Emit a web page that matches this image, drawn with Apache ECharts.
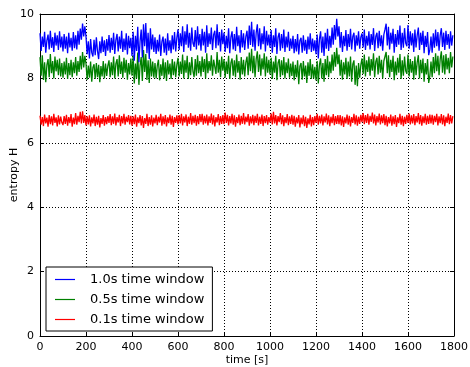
<!DOCTYPE html>
<html>
<head>
<meta charset="utf-8">
<script src="https://cdn.jsdelivr.net/npm/echarts@6/dist/echarts.min.js"></script>
<style>
  html, body { margin: 0; padding: 0; background: #fff; }
  #entropyChart { width: 470px; height: 367px; }
</style>
</head>
<body>
<div id="entropyChart"></div>
<script>
// sampling step of the read-off values (s)
const dt = 5;
const xTicks = [0, 200, 400, 600, 800, 1000, 1200, 1400, 1600, 1800];
const yTicks = [0, 2, 4, 6, 8, 10];
const seriesNames = ['1.0s time window', '0.5s time window', '0.1s time window'];

// 1.0s time window (blue), one value every 5 s
const win10 = [
  9.40, 8.85, 9.30, 8.98, 9.45, 8.80, 9.18, 9.36, 8.90, 9.48, 8.95, 9.28, 8.82, 9.42, 9.02, 9.34, 8.88, 9.46, 8.96, 9.30,
  8.84, 9.38, 8.92, 9.30, 8.78, 9.42, 8.96, 9.26, 8.86, 9.44, 8.94, 9.34, 8.90, 9.48, 9.05, 9.55, 9.20, 9.70, 9.30, 9.62,
  9.30, 8.75, 9.15, 8.62, 9.22, 8.80, 8.68, 9.20, 8.72, 9.28, 8.85, 8.60, 9.15, 8.78, 9.30, 8.82, 9.18, 8.70, 9.22, 8.86,
  9.35, 8.80, 9.26, 8.88, 9.42, 8.76, 9.20, 9.38, 8.84, 9.30, 8.92, 9.48, 8.82, 9.24, 8.88, 9.40, 8.74, 9.32, 8.94, 9.26,
  8.70, 9.45, 8.55, 9.32, 8.85, 9.60, 8.50, 9.15, 9.52, 8.65, 9.68, 9.00, 9.72, 8.78, 9.42, 8.60, 9.56, 8.90, 9.36, 8.82,
  9.28, 8.76, 9.20, 8.84, 9.36, 8.70, 9.14, 9.30, 8.80, 9.24, 8.72, 9.40, 8.86, 9.18, 8.78, 9.34, 8.90, 9.44, 8.84, 9.26,
  9.52, 8.88, 9.40, 9.00, 9.62, 8.82, 9.46, 9.05, 9.68, 8.95, 9.42, 8.86, 9.58, 9.10, 8.98, 9.50, 8.90, 9.62, 9.02, 9.38,
  8.86, 9.54, 9.02, 9.45, 8.80, 9.65, 8.98, 9.40, 9.06, 9.58, 8.88, 9.36, 9.48, 8.94, 9.68, 9.02, 9.44, 8.84, 9.52, 9.06,
  9.42, 8.82, 9.32, 8.94, 9.56, 8.78, 9.28, 9.46, 8.90, 9.38, 8.85, 9.60, 9.00, 9.34, 8.80, 9.50, 8.96, 9.40, 8.88, 9.30,
  9.48, 8.92, 9.64, 9.04, 9.76, 8.98, 9.52, 8.86, 9.42, 9.68, 9.00, 9.56, 8.90, 9.40, 9.06, 9.62, 8.84, 9.48, 9.02, 9.36,
  8.95, 9.50, 8.80, 9.34, 8.98, 9.56, 8.76, 9.28, 9.42, 8.86, 9.38, 8.94, 9.52, 8.82, 9.30, 8.96, 9.45, 8.85, 9.24, 8.92,
  9.32, 8.78, 9.22, 8.84, 9.38, 8.74, 9.18, 9.26, 8.80, 9.34, 8.86, 9.20, 8.76, 9.30, 8.90, 9.40, 8.82, 9.24, 8.86, 9.18,
  8.75, 9.36, 8.62, 9.22, 9.46, 8.80, 9.30, 8.70, 9.42, 8.92, 9.54, 8.85, 9.32, 8.95, 9.58, 9.05, 9.66, 9.20, 9.85, 9.30,
  9.62, 8.95, 9.44, 8.82, 9.32, 9.00, 9.50, 8.86, 9.38, 8.98, 9.54, 8.90, 9.30, 9.42, 8.84, 9.34, 9.02, 9.46, 8.92, 9.28,
  9.40, 8.96, 9.52, 8.88, 9.32, 9.02, 9.46, 8.90, 9.38, 9.04, 9.56, 8.85, 9.30, 9.42, 8.94, 9.48, 9.00, 9.34, 8.86, 9.36,
  9.52, 9.70, 9.02, 9.60, 8.90, 9.42, 9.08, 9.54, 8.80, 9.38, 8.98, 9.50, 9.05, 9.64, 8.88, 9.42, 8.95, 9.56, 9.10, 9.00,
  9.66, 8.92, 9.46, 9.02, 9.40, 8.82, 9.52, 8.96, 9.34, 9.58, 8.88, 9.42, 9.04, 9.48, 8.78, 9.32, 8.98, 9.44, 8.72, 8.90,
  9.30, 8.80, 9.40, 8.95, 9.52, 9.00, 9.44, 8.86, 9.34, 9.56, 8.98, 9.42, 8.88, 9.48, 9.04, 9.38, 8.92, 9.46, 9.02, 9.34
];

// 0.5s time window (green)
const win05 = [
  8.66, 8.08, 8.72, 7.95, 8.50, 7.88, 8.42, 8.60, 8.04, 8.76, 8.16, 8.54, 8.00, 8.68, 8.22, 8.58, 8.10, 8.62, 8.06, 8.48,
  8.02, 8.52, 8.12, 8.64, 7.98, 8.48, 8.10, 8.58, 8.04, 8.50, 8.16, 8.66, 8.08, 8.54, 8.20, 8.70, 8.28, 8.82, 8.34, 8.70,
  8.46, 7.95, 8.40, 8.02, 8.52, 7.90, 8.34, 8.44, 7.98, 8.48, 8.04, 8.42, 7.88, 8.38, 8.06, 8.54, 8.00, 8.46, 8.08, 8.40,
  8.56, 8.04, 8.50, 8.10, 8.68, 8.00, 8.46, 8.60, 8.06, 8.72, 8.14, 8.52, 8.02, 8.64, 8.18, 8.58, 7.96, 8.48, 8.12, 8.62,
  8.08, 8.72, 7.84, 8.46, 8.00, 8.80, 7.80, 8.40, 8.66, 7.92, 8.88, 8.20, 8.76, 7.95, 8.56, 7.86, 8.62, 8.06, 8.52, 8.02,
  8.48, 8.00, 8.40, 8.58, 7.94, 8.44, 8.08, 8.62, 8.00, 8.50, 7.92, 8.56, 8.12, 8.46, 7.98, 8.60, 8.10, 8.52, 8.04, 8.42,
  8.64, 8.06, 8.52, 8.14, 8.74, 8.00, 8.56, 8.18, 8.70, 7.98, 8.50, 8.10, 8.66, 8.22, 8.04, 8.60, 8.08, 8.72, 8.16, 8.54,
  8.06, 8.68, 8.20, 8.60, 8.00, 8.78, 8.16, 8.54, 8.24, 8.72, 8.08, 8.58, 8.64, 8.14, 8.82, 8.18, 8.58, 8.04, 8.68, 8.24,
  8.60, 8.02, 8.52, 8.14, 8.70, 7.98, 8.48, 8.62, 8.08, 8.56, 8.04, 8.74, 8.18, 8.54, 7.96, 8.66, 8.12, 8.58, 8.06, 8.50,
  8.68, 8.10, 8.80, 8.22, 8.92, 8.16, 8.70, 8.04, 8.60, 8.84, 8.20, 8.74, 8.08, 8.62, 8.28, 8.78, 8.06, 8.68, 8.18, 8.58,
  8.12, 8.64, 7.98, 8.52, 8.18, 8.70, 7.94, 8.48, 8.60, 8.04, 8.56, 8.10, 8.66, 8.00, 8.50, 8.16, 8.62, 8.02, 8.46, 8.08,
  8.52, 7.94, 8.42, 8.04, 8.56, 7.82, 8.38, 8.48, 7.96, 8.54, 8.06, 8.40, 7.86, 8.50, 8.08, 8.60, 7.98, 8.44, 8.00, 8.36,
  7.94, 8.54, 7.84, 8.42, 8.62, 8.00, 8.48, 7.90, 8.60, 8.10, 8.70, 8.04, 8.52, 8.16, 8.74, 8.24, 8.82, 8.36, 8.95, 8.44,
  8.74, 8.08, 8.58, 7.96, 8.50, 8.12, 8.64, 7.98, 8.52, 8.06, 8.68, 7.90, 8.44, 8.56, 7.80, 8.40, 7.76, 8.48, 8.02, 8.42,
  8.62, 8.14, 8.74, 8.06, 8.56, 8.20, 8.68, 8.08, 8.60, 8.24, 8.78, 8.04, 8.52, 8.64, 8.12, 8.70, 8.18, 8.58, 8.00, 8.54,
  8.68, 8.82, 8.16, 8.72, 8.04, 8.58, 8.20, 8.70, 7.94, 8.52, 8.10, 8.64, 8.18, 8.76, 7.98, 8.56, 8.08, 8.68, 8.24, 8.14,
  8.74, 8.06, 8.60, 8.18, 8.54, 7.96, 8.68, 8.10, 8.50, 8.72, 8.00, 8.58, 8.16, 8.62, 7.90, 8.48, 8.12, 8.60, 7.86, 8.08,
  8.52, 8.04, 8.66, 8.16, 8.78, 8.22, 8.70, 8.10, 8.60, 8.84, 8.18, 8.72, 8.12, 8.76, 8.28, 8.64, 8.16, 8.82, 8.34, 8.68
];

// 0.1s time window (red)
const win01 = [
  6.84, 6.56, 6.80, 6.52, 6.88, 6.60, 6.78, 6.50, 6.86, 6.58, 6.82, 6.54, 6.90, 6.62, 6.79, 6.51, 6.85, 6.57, 6.81, 6.63,
  6.55, 6.83, 6.59, 6.87, 6.53, 6.80, 6.61, 6.89, 6.50, 6.78, 6.58, 6.92, 6.56, 6.84, 6.64, 6.96, 6.60, 6.98, 6.62, 6.86,
  6.54, 6.82, 6.57, 6.85, 6.51, 6.79, 6.60, 6.88, 6.52, 6.81, 6.56, 6.84, 6.48, 6.77, 6.59, 6.86, 6.53, 6.80, 6.58, 6.83,
  6.62, 6.89, 6.55, 6.82, 6.59, 6.91, 6.54, 6.80, 6.63, 6.87, 6.52, 6.83, 6.60, 6.90, 6.56, 6.81, 6.64, 6.86, 6.57, 6.84,
  6.53, 6.82, 6.58, 6.88, 6.50, 6.79, 6.61, 6.86, 6.54, 6.83, 6.46, 6.77, 6.59, 6.90, 6.52, 6.80, 6.56, 6.85, 6.51, 6.78,
  6.60, 6.87, 6.55, 6.81, 6.63, 6.90, 6.53, 6.82, 6.58, 6.86, 6.51, 6.79, 6.61, 6.88, 6.56, 6.84, 6.49, 6.80, 6.62, 6.85,
  6.57, 6.86, 6.60, 6.90, 6.54, 6.82, 6.63, 6.88, 6.52, 6.81, 6.59, 6.92, 6.56, 6.84, 6.61, 6.87, 6.53, 6.83, 6.58, 6.89,
  6.64, 6.90, 6.56, 6.84, 6.60, 6.88, 6.54, 6.82, 6.62, 6.91, 6.57, 6.85, 6.51, 6.80, 6.63, 6.89, 6.55, 6.83, 6.59, 6.86,
  6.58, 6.94, 6.62, 6.87, 6.54, 6.83, 6.60, 6.90, 6.56, 6.85, 6.50, 6.80, 6.61, 6.88, 6.55, 6.84, 6.59, 6.92, 6.57, 6.81,
  6.64, 6.89, 6.53, 6.82, 6.60, 6.87, 6.55, 6.84, 6.62, 6.90, 6.54, 6.81, 6.59, 6.88, 6.52, 6.83, 6.61, 6.86, 6.56, 6.80,
  6.63, 6.91, 6.57, 6.96, 6.60, 6.86, 6.54, 6.83, 6.64, 6.92, 6.58, 6.85, 6.52, 6.80, 6.61, 6.89, 6.55, 6.82, 6.59, 6.87,
  6.56, 6.84, 6.50, 6.79, 6.60, 6.86, 6.48, 6.78, 6.58, 6.85, 6.52, 6.81, 6.46, 6.76, 6.57, 6.87, 6.51, 6.80, 6.55, 6.83,
  6.62, 6.90, 6.56, 6.84, 6.60, 6.88, 6.54, 6.82, 6.63, 6.91, 6.57, 6.85, 6.52, 6.81, 6.61, 6.89, 6.55, 6.83, 6.59, 6.86,
  6.58, 6.86, 6.54, 6.82, 6.49, 6.79, 6.60, 6.88, 6.56, 6.84, 6.51, 6.80, 6.62, 6.90, 6.57, 6.85, 6.53, 6.81, 6.59, 6.87,
  6.64, 6.92, 6.58, 6.86, 6.62, 6.90, 6.56, 6.84, 6.65, 6.94, 6.60, 6.88, 6.54, 6.83, 6.63, 6.91, 6.57, 6.85, 6.61, 6.89,
  6.55, 6.84, 6.51, 6.80, 6.60, 6.88, 6.53, 6.82, 6.58, 6.86, 6.49, 6.79, 6.61, 6.90, 6.56, 6.84, 6.52, 6.81, 6.59, 6.87,
  6.62, 6.91, 6.57, 6.85, 6.60, 6.89, 6.55, 6.83, 6.63, 6.92, 6.58, 6.86, 6.53, 6.82, 6.61, 6.90, 6.56, 6.84, 6.59, 6.88,
  6.60, 6.87, 6.56, 6.84, 6.64, 6.90, 6.54, 6.82, 6.61, 6.89, 6.57, 6.85, 6.52, 6.81, 6.62, 6.91, 6.58, 6.86, 6.60, 6.83
];

const colors = ['#0000ff', '#008000', '#ff0000'];
const font = 'DejaVu Sans';

// pair each value with its time
function withTime(values) {
  return values.map((v, i) => [i * dt, v]);
}

let chart = echarts.init(document.getElementById('entropyChart'), null, { renderer: 'canvas' });

// frame axes look like matplotlib classic: ticks inside, box all round
const tickStyle = { show: true, inside: true, length: 4, lineStyle: { color: '#000', width: 1 } };
const frameLine = { show: true, onZero: false, lineStyle: { color: '#000', width: 1 } };
const gridLine = { show: true, lineStyle: { color: '#000', width: 1, type: [1, 2] } };

let option = {
  animation: false,
  backgroundColor: '#fff',
  textStyle: { fontFamily: font },
  grid: { left: 40, right: 16, top: 14, bottom: 31, containLabel: false, outerBoundsMode: 'none' },
  legend: {
    // legend line samples in the series colours
    data: seriesNames.map((name, i) => ({ name: name, itemStyle: { color: colors[i], borderWidth: 0 } })),
    orient: 'vertical',
    left: 46,
    top: 267,
    padding: [6, 8, 5, 9],
    icon: 'path://M0,0 L20,0 L20,1.2 L0,1.2 Z',
    itemWidth: 20,
    itemHeight: 12,
    itemGap: 7,
    borderColor: '#000',
    borderWidth: 1,
    borderRadius: 0,
    backgroundColor: '#fff',
    textStyle: { fontFamily: font, fontSize: 13, color: '#000', padding: [0, 0, 0, 10] }
  },
  xAxis: [
    {
      type: 'value',
      min: 0,
      max: 1800,
      interval: 200,
      name: 'time [s]',
      nameLocation: 'middle',
      nameGap: 19,
      nameMoveOverlap: false,
      nameTextStyle: { fontFamily: font, fontSize: 11, color: '#000' },
      axisLine: frameLine,
      axisTick: tickStyle,
      axisLabel: { fontFamily: font, fontSize: 11, color: '#000', margin: 6,
        formatter: v => xTicks.indexOf(v) >= 0 ? String(v) : '' },
      splitLine: gridLine
    },
    {
      type: 'value',
      position: 'top',
      min: 0,
      max: 1800,
      interval: 200,
      axisLine: frameLine,
      axisTick: tickStyle,
      axisLabel: { show: false },
      splitLine: { show: false }
    }
  ],
  yAxis: [
    {
      type: 'value',
      min: 0,
      max: 10,
      interval: 2,
      name: 'entropy H',
      nameLocation: 'middle',
      nameGap: 20,
      nameMoveOverlap: false,
      nameTextStyle: { fontFamily: font, fontSize: 11, color: '#000' },
      axisLine: frameLine,
      axisTick: tickStyle,
      axisLabel: { fontFamily: font, fontSize: 11, color: '#000', margin: 6,
        formatter: v => yTicks.indexOf(v) >= 0 ? String(v) : '' },
      splitLine: gridLine
    },
    {
      type: 'value',
      position: 'right',
      min: 0,
      max: 10,
      interval: 2,
      axisLine: frameLine,
      axisTick: tickStyle,
      axisLabel: { show: false },
      splitLine: { show: false }
    }
  ],
  series: [
    { name: seriesNames[0], data: withTime(win10) },
    { name: seriesNames[1], data: withTime(win05) },
    { name: seriesNames[2], data: withTime(win01) }
  ].map((s, idx) => ({
    ...s,
    type: 'line',
    symbol: 'none',
    showSymbol: false,
    sampling: null,
    color: colors[idx],
    lineStyle: { color: colors[idx], width: 1.3 },
    z: 3 - idx
  }))
};

chart.setOption(option, true);
</script>
</body>
</html>
